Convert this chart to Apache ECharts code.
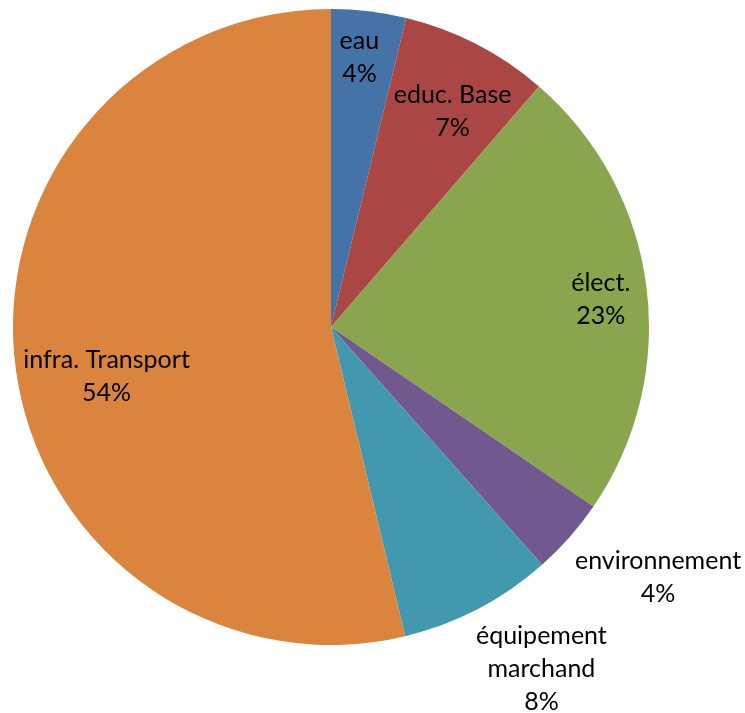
<!DOCTYPE html>
<html>
<head>
<meta charset="utf-8">
<script src="https://cdn.jsdelivr.net/npm/echarts@6/dist/echarts.min.js"></script>
<style>
  html, body { margin: 0; padding: 0; background: #fff; }
  #container { width: 745px; height: 713px; }
</style>
</head>
<body>
<div id="container"></div>
<script>
var categories = ['eau', 'educ. Base', 'élect.', 'environnement', 'équipement\nmarchand', 'infra. Transport'];
var values = [3.8, 7.55, 23.2, 3.9, 7.8, 53.75];
var colors = ['#4572A7', '#AA4643', '#89A54E', '#71588F', '#4198AF', '#DB843D'];

(function(){
	var dom = document.getElementById('container');
	var myChart = echarts.init(dom);
	var center = [331, 327];
	var R = 318;
	// distance of each label from the centre, and a small nudge (Excel "best fit")
	var labelRadius = [269, 245, 268, 409, 398, 226];
	var labelOffset = [[-4, 1], [8, 5], [1, 7], [18, -22], [25, -14], [3, 23]];

	var series = [{
		name: 'pie',
		type: 'pie',
		center: center,
		radius: [0, R],
		startAngle: 90,
		clockwise: true,
		percentPrecision: 0,
		label: { show: false },
		labelLine: { show: false },
		itemStyle: {
			color: function (p) { return colors[p.dataIndex]; },
			borderWidth: 0
		},
		data: categories.map(function (name, i) {
			return { name: name, value: values[i] };
		})
	}];

	// invisible pies, one per label, used only to place the labels
	categories.forEach(function (cat, k) {
		series.push({
			type: 'pie',
			silent: true,
			center: center,
			radius: [0, labelRadius[k] * 2],
			startAngle: 90,
			percentPrecision: 0,
			itemStyle: { color: 'rgba(0,0,0,0)' },
			label: {
				show: false,
				position: 'inside',
				formatter: '{b}\n{d}%',
				fontFamily: 'Lato',
				fontSize: 25,
				lineHeight: 33,
				color: '#000'
			},
			labelLine: { show: false },
			emphasis: { disabled: true },
			data: categories.map(function (name, i) {
				return {
					name: name,
					value: values[i],
					label: i === k ? { show: true, offset: labelOffset[k] } : { show: false }
				};
			})
		});
	});

	var option = {
		animation: false,
		series: series
	};
	myChart.setOption(option, true);
})();
</script>
</body>
</html>
